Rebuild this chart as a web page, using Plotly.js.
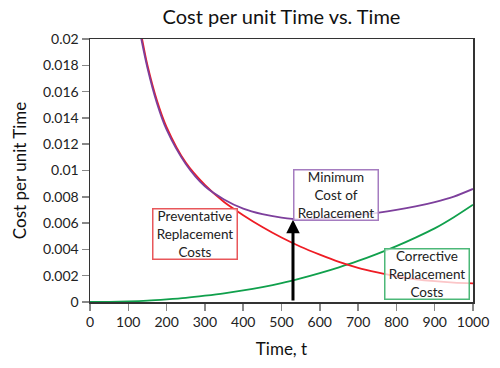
<!DOCTYPE html>
<html>
<head>
<meta charset="utf-8">
<script src="https://cdn.plot.ly/plotly-3.0.1.min.js"></script>
<style>html,body{margin:0;padding:0;background:#fff;}#chart{width:500px;height:368px;}</style>
</head>
<body>
<div id="chart"></div>
<script>
// Preventative replacement cost per unit time (red)
const prevT    = [120, 136, 150, 175, 200, 250, 300, 350, 400, 450, 500, 550, 600, 650, 700, 750, 800, 850, 900, 950, 1000];
const prevCost = [0.0225, 0.0200, 0.0180, 0.0153, 0.0133, 0.0106, 0.0089, 0.0076, 0.0066, 0.0057, 0.0049, 0.0042, 0.0036, 0.00305, 0.0026, 0.00225, 0.00195, 0.00173, 0.00158, 0.00148, 0.00142];

// Corrective replacement cost per unit time (green)
const corrT    = [0, 50, 100, 150, 200, 250, 300, 350, 400, 450, 500, 550, 600, 650, 700, 750, 800, 850, 900, 950, 1000];
const corrCost = [0, 0.00001, 0.00004, 0.0001, 0.0002, 0.00032, 0.00048, 0.00066, 0.00088, 0.00114, 0.00144, 0.0018, 0.0022, 0.00264, 0.00312, 0.00366, 0.00425, 0.0049, 0.0056, 0.00645, 0.0074];

// Total cost per unit time (purple)
const totalT    = [118, 134, 150, 175, 200, 250, 300, 350, 400, 450, 500, 550, 600, 650, 700, 750, 800, 850, 900, 950, 1000];
const totalCost = [0.0225, 0.0200, 0.0178, 0.0151, 0.0131, 0.0105, 0.0088, 0.0078, 0.0071, 0.00668, 0.00642, 0.00628, 0.00633, 0.00645, 0.0066, 0.00678, 0.007, 0.00727, 0.0076, 0.00802, 0.0086];

// Minimum point
const minT = 530;
const minCost = 0.00626;

const xTicks = [0, 100, 200, 300, 400, 500, 600, 700, 800, 900, 1000];
const yTicks = [0, 0.002, 0.004, 0.006, 0.008, 0.01, 0.012, 0.014, 0.016, 0.018, 0.02];
const yTickText = ['0', '0.002', '0.004', '0.006', '0.008', '0.01', '0.012', '0.014', '0.016', '0.018', '0.02'];

const FONT = 'Lato, "Open Sans", sans-serif';

const traces = [
  {x: corrT, y: corrCost, mode: 'lines', line: {color: '#10a04c', width: 1.8, shape: 'spline', smoothing: 0.8}, hoverinfo: 'skip'},
  {x: prevT, y: prevCost, mode: 'lines', line: {color: '#ee1c24', width: 1.8, shape: 'spline', smoothing: 0.8}, hoverinfo: 'skip'},
  {x: totalT, y: totalCost, mode: 'lines', line: {color: '#7d3f9c', width: 1.8, shape: 'spline', smoothing: 0.8}, hoverinfo: 'skip'}
];

const boxFont = {family: FONT, size: 13.5, color: '#222'};

const layout = {
  width: 500, height: 368,
  margin: {l: 90, r: 27, t: 39, b: 66},
  paper_bgcolor: '#fff', plot_bgcolor: '#fff',
  showlegend: false,
  font: {family: FONT, color: '#222'},
  title: {text: 'Cost per unit Time vs. Time', font: {family: FONT, size: 20, color: '#111'}, x: 0.5, xref: 'paper', y: 0.955, yanchor: 'middle'},
  xaxis: {
    range: [0, 1000], tickvals: xTicks, ticktext: xTicks.map(String),
    showgrid: false, zeroline: false, showline: true, mirror: true,
    linecolor: '#333', linewidth: 1.5,
    ticks: 'outside', ticklen: 7, tickcolor: '#888', tickwidth: 1.5,
    tickfont: {family: FONT, size: 14, color: '#222'},
    title: {text: 'Time, t', font: {family: FONT, size: 17, color: '#111'}, standoff: 14}
  },
  yaxis: {
    range: [0, 0.02], tickvals: yTicks, ticktext: yTickText,
    showgrid: false, zeroline: false, showline: true, mirror: true,
    linecolor: '#333', linewidth: 1.5,
    ticks: 'outside', ticklen: 7, tickcolor: '#888', tickwidth: 1.5,
    tickfont: {family: FONT, size: 14, color: '#222'},
    title: {text: 'Cost per unit Time', font: {family: FONT, size: 17, color: '#111'}, standoff: 12}
  },
  annotations: [
    {x: minT, y: minCost, ax: minT, ay: 0, xref: 'x', yref: 'y', axref: 'x', ayref: 'y',
     text: '', showarrow: true, arrowhead: 2, arrowsize: 0.9, arrowwidth: 3, arrowcolor: '#000', standoff: 0, startstandoff: 0},
    {x: 274, y: 0.00516, xref: 'x', yref: 'y', text: 'Preventative<br>Replacement<br>Costs', showarrow: false,
     font: boxFont, bordercolor: '#e8575a', borderwidth: 1.5, borderpad: 1, bgcolor: 'rgba(255,255,255,0.8)', width: 81, height: 47},
    {x: 641, y: 0.00816, xref: 'x', yref: 'y', text: 'Minimum<br>Cost of<br>Replacement', showarrow: false,
     font: boxFont, bordercolor: '#a57cc0', borderwidth: 1.5, borderpad: 1, bgcolor: 'rgba(255,255,255,0.8)', width: 81, height: 47},
    {x: 880, y: 0.00215, xref: 'x', yref: 'y', text: 'Corrective<br>Replacement<br>Costs', showarrow: false,
     font: boxFont, bordercolor: '#4cb878', borderwidth: 1.5, borderpad: 1, bgcolor: 'rgba(255,255,255,0.75)', width: 81, height: 47}
  ]
};

Plotly.newPlot('chart', traces, layout, {staticPlot: true, displayModeBar: false});
</script>
</body>
</html>
